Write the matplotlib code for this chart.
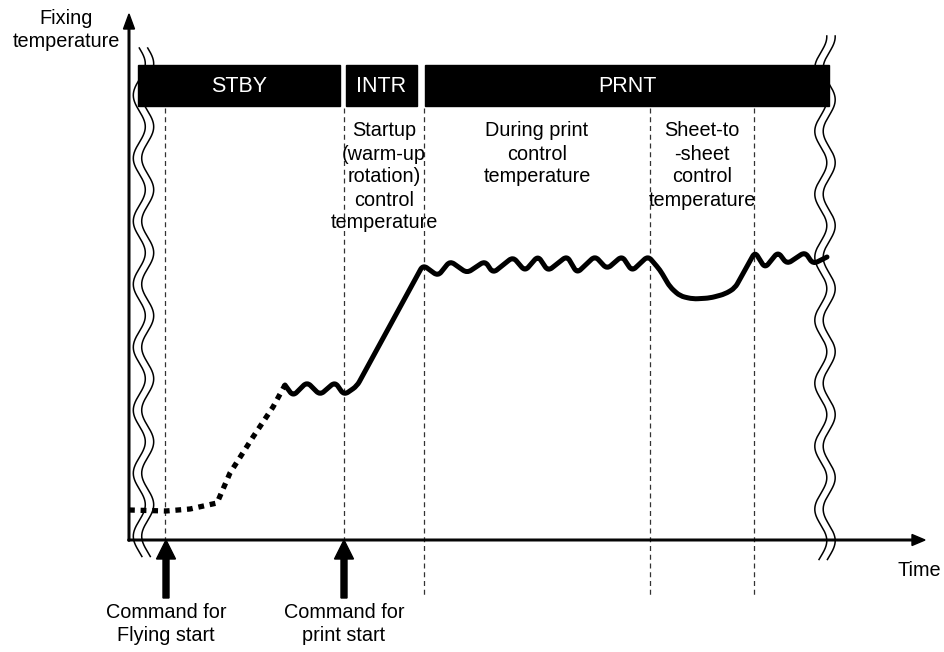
import matplotlib.pyplot as plt
from matplotlib.patches import Rectangle, FancyArrow, PathPatch
from matplotlib.path import Path
import numpy as np

plt.rcParams['font.family'] = ['Liberation Sans', 'DejaVu Sans']

# canvas works in pixel units: x = time, y = fixing temperature (down = colder)
# standby rise (dotted)
stby_time = [129, 166, 190, 217, 230, 253, 273, 285]
stby_temp = [510, 511, 509, 503, 473, 437, 407, 385]

# solid curve: standby ripple, startup ramp, print control, sheet-to-sheet dip
run_time = [285, 293, 307, 320, 335, 344, 357, 423, 438, 450, 467, 485, 493, 513,
            525, 538, 548, 567, 577, 595, 607, 622, 632, 648, 660, 670, 680, 693,
            710, 725, 735, 745, 755, 765, 778, 787, 805, 813, 827]
run_temp = [385, 396, 382, 395, 382, 395, 386, 265, 276, 261, 273, 261, 273, 257,
            271, 256, 271, 256, 273, 256, 269, 256, 271, 256, 270, 287, 296, 299,
            298, 294, 288, 270, 252, 268, 252, 264, 252, 264, 257]

# phase bars
phase_names = ['STBY', 'INTR', 'PRNT']
phase_start = [138, 346, 425]
phase_end = [340, 417, 829]

# phase boundaries (dashed)
marker_x = [165, 344, 424, 650, 754]
marker_bottom = [540, 540, 595, 595, 595]

# region notes
note_x = [384, 537, 702]
note_lines = [['Startup', '(warm-up', 'rotation)', 'control', 'temperature'],
              ['During print', 'control', 'temperature'],
              ['Sheet-to', '-sheet', 'control', 'temperature']]

# commands
cmd_x = [166, 344]
cmd_labels = ['Command for\nFlying start', 'Command for\nprint start']

fig = plt.figure(figsize=(9.44, 6.52), dpi=100)
ax = fig.add_axes([0, 0, 1, 1])
ax.set_xlim(0, 944)
ax.set_ylim(652, 0)
ax.axis('off')

fs = 14.3

# dashed boundaries
for x, yb in zip(marker_x, marker_bottom):
    ax.plot([x, x], [108, yb], color='#333333', lw=0.9, ls=(0, (4, 3)), zorder=1)


# break marks
def break_mark(xc, y0, y1, phase=0.0):
    yy = np.arange(y0, y1, 0.5)
    xx = xc + 6.0 * np.sin(2 * np.pi * (yy - y0) / 63 + phase)
    ax.fill_betweenx(yy, xx - 4.2, xx + 4.2, color='white', lw=0, zorder=4)
    ax.plot(xx - 4.2, yy, color='black', lw=1.1, zorder=5)
    ax.plot(xx + 4.2, yy, color='black', lw=1.1, zorder=5)


break_mark(143.5, 48, 557)
break_mark(825, 36, 560, phase=1.5)

# phase bars
for name, x0, x1 in zip(phase_names, phase_start, phase_end):
    ax.add_patch(Rectangle((x0, 65), x1 - x0, 41, color='black', zorder=5.5))
    ax.text((x0 + x1) / 2, 86, name, color='white', fontsize=15.5,
            ha='center', va='center', zorder=6)

# axes with arrow heads
ax.add_patch(FancyArrow(129, 541, 0, -527, width=1.6, head_width=11, head_length=15,
                        length_includes_head=True, color='black', zorder=6))
ax.add_patch(FancyArrow(128, 540, 797, 0, width=1.6, head_width=11, head_length=13,
                        length_includes_head=True, color='black', zorder=6))


# temperature curve, corners softened a little
def rounded_path(xs, ys, r=5.0):
    p = np.column_stack([xs, ys]).astype(float)
    verts, codes = [p[0]], [Path.MOVETO]
    for i in range(1, len(p) - 1):
        d_in = p[i] - p[i - 1]
        d_out = p[i + 1] - p[i]
        l_in, l_out = np.hypot(*d_in), np.hypot(*d_out)
        rr = min(r, 0.5 * l_in, 0.5 * l_out)
        a = p[i] - d_in / l_in * rr
        b = p[i] + d_out / l_out * rr
        verts += [a, p[i], b]
        codes += [Path.LINETO, Path.CURVE3, Path.CURVE3]
    verts.append(p[-1])
    codes.append(Path.LINETO)
    return Path(verts, codes)


ax.plot(stby_time, stby_temp, color='black', lw=3.8, ls=(0, (1.1, 1.1)),
        dash_capstyle='butt', zorder=7)
ax.add_patch(PathPatch(rounded_path(run_time, run_temp), fill=False, ec='black',
                       lw=3.6, capstyle='round', joinstyle='round', zorder=7))

# command arrows
for x, lab in zip(cmd_x, cmd_labels):
    ax.add_patch(FancyArrow(x, 598, 0, -58, width=6, head_width=19, head_length=19,
                            length_includes_head=True, color='black', zorder=6))
    ax.text(x, 624, lab, fontsize=fs, ha='center', va='center', linespacing=1.3)

# region notes
for x, lines in zip(note_x, note_lines):
    for i, s in enumerate(lines):
        ax.text(x, 131 + 23 * i, s, fontsize=fs, ha='center', va='center')

ax.text(66, 30, 'Fixing\ntemperature', fontsize=fs, ha='center', va='center',
        linespacing=1.3)
ax.text(919, 570, 'Time', fontsize=fs, ha='center', va='center')

fig.savefig('out.png', dpi=100)
